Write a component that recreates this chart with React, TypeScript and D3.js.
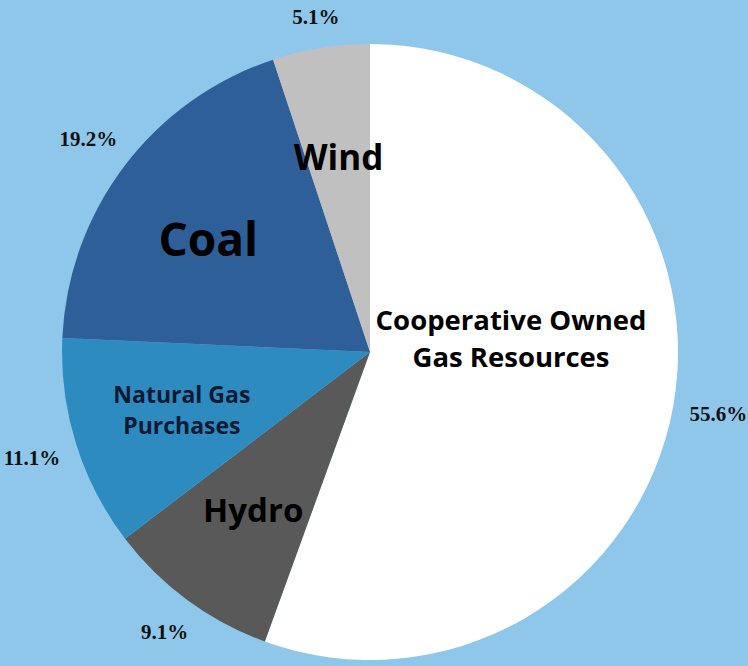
import { useEffect, useRef } from 'react'
import * as d3 from 'd3'

// slices go clockwise from 12 o'clock
const categories = ['Cooperative Owned Gas Resources', 'Hydro', 'Natural Gas Purchases', 'Coal', 'Wind']
const shares = [55.6, 9.1, 11.1, 19.2, 5.1]
const pctLabels = ['55.6%', '9.1%', '11.1%', '19.2%', '5.1%']
const nameLines = [['Cooperative Owned', 'Gas Resources'], ['Hydro'], ['Natural Gas', 'Purchases'], ['Coal'], ['Wind']]

const colors = ['#ffffff', '#595959', '#2e8bc0', '#2f5f98', '#c0c0c0']
const nameSizes = [27.5, 33, 23, 46, 35]
const nameColors = ['#000', '#000', '#0b1a33', '#000', '#000']

const PieChart = () => {
	const svgRef = useRef(null)

	useEffect(() => {
		const width = 748
		const height = 666
		const cx = 370
		const cy = 352
		const radius = 308

		const svg = d3.select(svgRef.current)
		svg.selectAll('*').remove()
		svg.attr('width', width).attr('height', height)

		svg.append('rect').attr('width', width).attr('height', height).attr('fill', '#8fc7ea')

		const g = svg.append('g').attr('transform', `translate(${cx},${cy})`)

		const data = categories.map((c, i) => ({ name: c, value: shares[i], i }))
		const pie = d3.pie().value((d) => d.value).sort(null)
		const arcs = pie(data)
		const arc = d3.arc().innerRadius(0).outerRadius(radius)

		g.selectAll('path.slice')
			.data(arcs)
			.enter()
			.append('path')
			.attr('class', 'slice')
			.attr('d', arc)
			.attr('fill', (d) => colors[d.data.i])

		// percentage labels just outside the edge
		const pctSize = 21
		arcs.forEach((d) => {
			const a = (d.startAngle + d.endAngle) / 2
			const label = pctLabels[d.data.i]
			const w = label.length * pctSize * 0.5
			const h = pctSize
			const dist = radius + 18 + Math.abs(Math.sin(a)) * w / 2 + Math.abs(Math.cos(a)) * h / 2
			// keep the label inside the picture
			const x = Math.max(-cx + w / 2 + 4, Math.min(width - cx - w / 2 - 3, Math.sin(a) * dist))
			g.append('text')
				.attr('x', x)
				.attr('y', -Math.cos(a) * dist)
				.attr('dy', '0.35em')
				.attr('text-anchor', 'middle')
				.style('font-family', '"Liberation Serif", "DejaVu Serif", serif')
				.style('font-weight', 'bold')
				.style('font-size', pctSize + 'px')
				.style('fill', '#111')
				.text(label)
		})

		// category names inside the slices
		arcs.forEach((d) => {
			const i = d.data.i
			let a = (d.startAngle + d.endAngle) / 2
			let r = radius * 0.64
			if (i === 0) {
				// big slice: label sits closer to centre, a bit above the middle
				a = a - 0.27
				r = radius * 0.46
			}
			if (i === 3) a = a - 0.04
			const x = Math.sin(a) * r
			const y = -Math.cos(a) * r
			const lines = nameLines[i]
			const size = nameSizes[i]
			const lh = size * 1.35
			const t = g.append('text')
				.attr('text-anchor', 'middle')
				.style('font-family', '"Open Sans", "Noto Sans", sans-serif')
				.style('font-weight', 'bold')
				.style('font-size', size + 'px')
				.style('fill', nameColors[i])
			lines.forEach((line, k) => {
				t.append('tspan')
					.attr('x', x)
					.attr('y', y + (k - (lines.length - 1) / 2) * lh)
					.attr('dy', '0.35em')
					.text(line)
			})
		})
	}, [])

	return <svg ref={svgRef} style={{ position: 'absolute', left: 0, top: 0 }}></svg>
}

export default function App() {
	return <PieChart />
}
